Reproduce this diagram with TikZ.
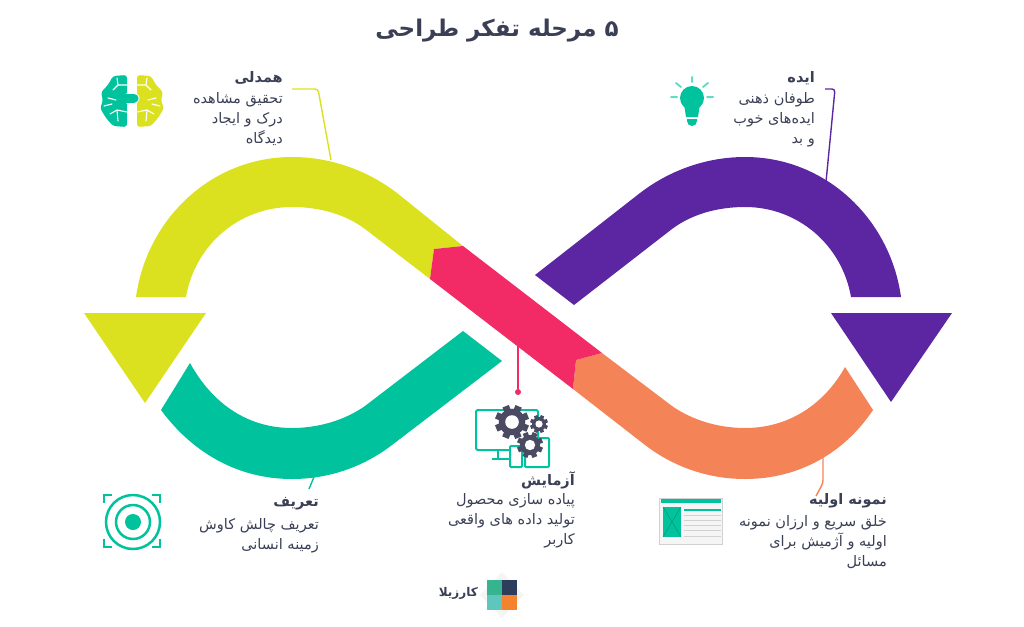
\documentclass[tikz,border=0pt]{standalone}
\usepackage{fontspec}
\newfontfamily\arabicfont[Script=Arabic]{DejaVu Sans}
\TeXXeTstate=1
\definecolor{BandYellow}{HTML}{DCE11F}
\definecolor{BandPink}{HTML}{F22A66}
\definecolor{BandPurple}{HTML}{5C26A2}
\definecolor{BandGreen}{HTML}{00C29C}
\definecolor{BandOrange}{HTML}{F48458}
\definecolor{InkDark}{HTML}{3A3F55}
\definecolor{GearGray}{HTML}{4A4A63}
\definecolor{LogoGreen}{HTML}{36B38F}
\definecolor{LogoNavy}{HTML}{2C3E5C}
\definecolor{LogoTeal}{HTML}{5FC6BE}
\definecolor{LogoOrange}{HTML}{F5822E}
\newcommand{\rtl}[1]{\beginR #1\endR}
\newcommand{\gearicon}[4]{
	\fill[GearGray] (#1,#2) circle ({#3*0.78pt});
	\foreach \a in {0,45,90,135}
		\fill[GearGray,shift={(#1,#2)},rotate=\a+22] (-#3*0.2,-#3) rectangle (#3*0.2,#3);
	\fill[white] (#1,#2) circle ({#3*0.4pt});
}
\newcommand{\brainhalf}[1]{
	\fill[#1,rounded corners=3pt] (127,75) -- (113,76) -- (108,85) -- (101,92) -- (103,101) -- (100,108) -- (106,118) -- (113,126) -- (127,127) -- cycle;
	\draw[white,line width=1.1pt,line cap=round] (127,85) -- (118,85) -- (113,90) (118,85) -- (117,78) (108,98) -- (116,100) (127,112) -- (117,110) -- (110,114) (117,110) -- (118,121) (104,106) -- (112,104);
}
\tikzset{
	headtext/.style={anchor=east,inner sep=0pt,text=InkDark,font=\arabicfont\bfseries\fontsize{14.5}{16}\selectfont},
	bodytext/.style={anchor=north east,inner sep=0pt,align=right,text=InkDark,font=\arabicfont\fontsize{14.5}{20}\selectfont},
	leader/.style={line width=1.4pt,rounded corners=3pt},
}
\begin{document}
\begin{tikzpicture}[x=1pt,y=-1pt]
	\useasboundingbox (0,0) rectangle (1024,626);

	\node[anchor=center,inner sep=0pt,text=InkDark,font=\arabicfont\bfseries\fontsize{23}{26}\selectfont] (Title) at (497,31) {\rtl{۵ مرحله تفکر طراحی}};

	\fill[BandYellow] (136,297) .. controls (147,218) and (212,157) .. (292,157) .. controls (330,157) and (367,170) .. (397,193) -- (463,246) -- (434,249) -- (430,279) -- (365,229) .. controls (345,214) and (319,207) .. (292,207) .. controls (239,207) and (195,245) .. (186,297) -- cycle;
	\fill[BandYellow] (84,313) -- (206,313) -- (145,403) -- cycle;
	\fill[BandPurple] (901,297) .. controls (890,218) and (825,157) .. (745,157) .. controls (707,157) and (670,170) .. (640,193) -- (535,275) -- (574,305) -- (672,229) .. controls (692,214) and (718,207) .. (745,207) .. controls (798,207) and (842,245) .. (851,297) -- cycle;
	\fill[BandPurple] (831,313) -- (952,313) -- (891,402) -- cycle;
	\fill[BandGreen] (502,361) -- (392,445) .. controls (362,468) and (327,479) .. (292,479) .. controls (237,479) and (192,452) .. (161,410) -- (190,363) .. controls (212,403) and (247,428) .. (292,428) .. controls (319,428) and (345,420) .. (365,406) -- (463,331) -- cycle;
	\fill[BandOrange] (602,353) -- (672,406) .. controls (692,420) and (718,428) .. (745,428) .. controls (790,428) and (825,403) .. (845,367) -- (873,410) .. controls (845,452) and (800,479) .. (745,479) .. controls (710,479) and (675,468) .. (645,445) -- (573,389) -- (576,360) -- cycle;
	\fill[BandPink] (434,249) -- (463,246) -- (602,353) -- (576,360) -- (573,389) -- (430,279) -- cycle;

	\coordinate (EmpathyA) at (292,89);
	\coordinate (EmpathyB) at (318,89);
	\coordinate (EmpathyC) at (331,160);
	\coordinate (IdeaA) at (825,89);
	\coordinate (IdeaB) at (835,89);
	\coordinate (IdeaC) at (826,182);
	\coordinate (ProtoA) at (823,457);
	\coordinate (ProtoB) at (823,483);
	\coordinate (ProtoC) at (816,496);
	\coordinate (DefineA) at (314,477);
	\coordinate (DefineB) at (309,489);
	\coordinate (TestA) at (518,345);
	\node[circle,fill=BandPink,inner sep=0pt,minimum size=6pt] (TestDot) at (518,392) {};

	\draw[leader,BandYellow] (EmpathyA) -- (EmpathyB) -- (EmpathyC);
	\draw[leader,BandPurple] (IdeaA) -- (IdeaB) -- (IdeaC);
	\draw[leader,BandOrange] (ProtoA) -- (ProtoB) -- (ProtoC);
	\draw[leader,BandGreen] (DefineA) -- (DefineB);
	\draw[leader,BandPink] (TestA) -- (TestDot);

	\node[headtext] (EmpathyHead) at (283,78) {\rtl{همدلی}};
	\node[bodytext] (EmpathyBody) at (283,92) {\rtl{تحقیق مشاهده}\\\rtl{درک و ایجاد}\\\rtl{دیدگاه}};
	\node[headtext] (IdeaHead) at (815,78) {\rtl{ایده}};
	\node[bodytext] (IdeaBody) at (815,92) {\rtl{طوفان ذهنی}\\\rtl{ایده‌های خوب}\\\rtl{و بد}};
	\node[headtext] (ProtoHead) at (887,501) {\rtl{نمونه اولیه}};
	\node[bodytext] (ProtoBody) at (887,515) {\rtl{خلق سریع و ارزان نمونه}\\\rtl{اولیه و آژمیش برای}\\\rtl{مسائل}};
	\node[headtext] (TestHead) at (575,480) {\rtl{آزمایش}};
	\node[bodytext] (TestBody) at (575,493) {\rtl{پیاده سازی محصول}\\\rtl{تولید داده های واقعی}\\\rtl{کاربر}};
	\node[headtext] (DefineHead) at (319,504) {\rtl{تعریف}};
	\node[bodytext] (DefineBody) at (319,518) {\rtl{تعریف چالش کاوش}\\\rtl{زمینه انسانی}};

	\brainhalf{BandGreen}
	\begin{scope}[shift={(264,0)},xscale=-1]
		\brainhalf{BandYellow}
	\end{scope}
	\draw[white,line width=11pt,line cap=round] (128,98) -- (134,98);
	\draw[BandGreen,line width=9pt,line cap=round] (124,98) -- (134,98);

	\fill[BandGreen] (692,98) circle (12pt);
	\fill[BandGreen] (684,104) -- (700,104) -- (698,117) -- (686,117) -- cycle;
	\fill[BandGreen] (687,119) -- (697,119) -- (697,121) arc (0:-180:5pt) -- cycle;
	\draw[BandGreen!60,line width=2pt,line cap=round] (692,77) -- (692,82) (676,83) -- (681,87) (708,83) -- (703,87) (671,97) -- (677,97) (707,97) -- (713,97);

	\draw[BandGreen,line width=2.5pt] (133,522) circle (27pt) (133,522) circle (17pt);
	\fill[BandGreen] (133,522) circle (8pt);
	\draw[BandGreen,line width=2.2pt] (104,503) -- (104,495) -- (112,495) (152,495) -- (160,495) -- (160,503) (104,539) -- (104,547) -- (112,547) (152,547) -- (160,547) -- (160,539);

	\draw[BandGreen,line width=2pt,rounded corners=2pt] (510,450) -- (476,450) -- (476,410) -- (538,410) -- (538,438);
	\draw[BandGreen,line width=2pt] (498,450) -- (498,459) (492,459) -- (510,459);
	\draw[BandGreen,line width=2pt,fill=white,rounded corners=1pt] (510,446) rectangle (522,467);
	\draw[BandGreen,line width=2pt,fill=white,rounded corners=1pt] (525,438) rectangle (549,467);
	\gearicon{512}{422}{17}{7}
	\gearicon{539}{424}{9}{4}
	\gearicon{530}{445}{13}{5}

	\fill[black!4] (659,498) rectangle (722,544);
	\draw[black!18,line width=.8pt] (659,498) rectangle (722,544);
	\fill[BandGreen] (661,499) rectangle (721,503);
	\fill[BandGreen] (663,507) rectangle (681,537);
	\draw[BandGreen!70!black,line width=.3pt] (663,507) -- (681,537) (681,507) -- (663,537);
	\fill[BandGreen] (684,509) rectangle (721,511);
	\foreach \y in {515,520,525,530,536}
		\draw[black!18,line width=1pt] (684,\y) -- (721,\y);

	\fill[black!4] (502,572) -- (524,595) -- (502,618) -- (480,595) -- cycle;
	\fill[LogoGreen] (487,580) rectangle (502,595);
	\fill[LogoNavy] (502,580) rectangle (517,595);
	\fill[LogoTeal] (487,595) rectangle (502,610);
	\fill[LogoOrange] (502,595) rectangle (517,610);
	\node[anchor=east,inner sep=0pt,text=InkDark,font=\arabicfont\bfseries\fontsize{12}{14}\selectfont] (Logo) at (478,593) {\rtl{کارزیلا}};
\end{tikzpicture}
\end{document}
